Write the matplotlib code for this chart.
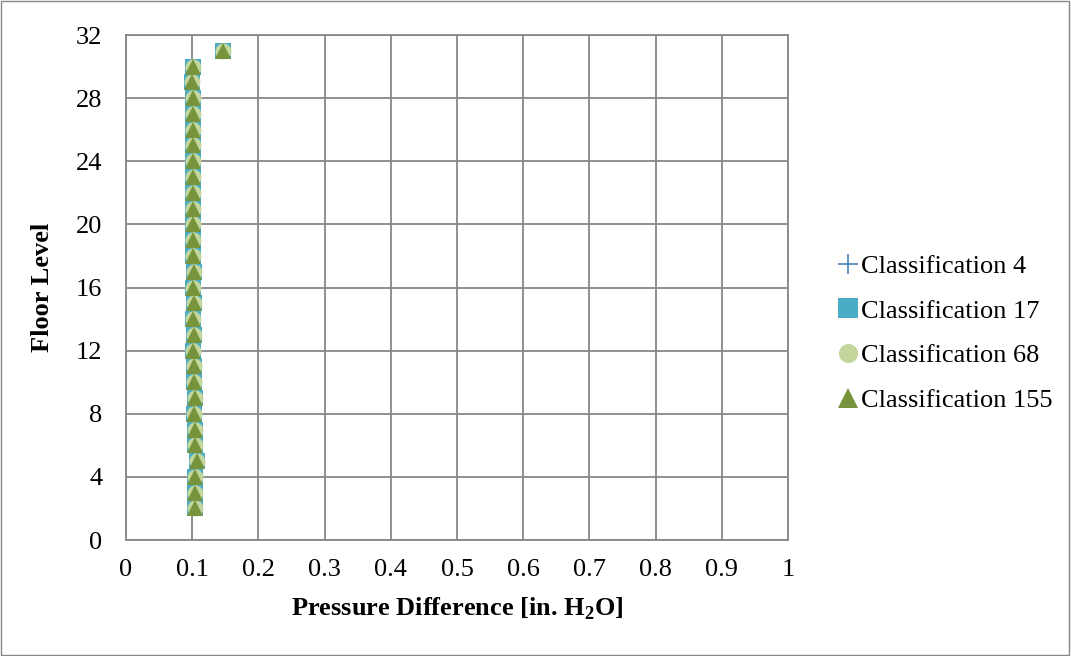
import matplotlib
matplotlib.use("Agg")
import matplotlib.pyplot as plt
from matplotlib.patches import Rectangle

# Floor levels and pressure differences (in. H2O) for each classification
floors = list(range(2, 32))
class_4 = [0.105, 0.105, 0.104, 0.107, 0.105, 0.104, 0.103, 0.104, 0.103, 0.103,
           0.102, 0.103, 0.102, 0.103, 0.102, 0.103, 0.102, 0.101, 0.102, 0.101,
           0.102, 0.101, 0.102, 0.101, 0.102, 0.101, 0.102, 0.100, 0.102, 0.147]
class_17 = list(class_4)
class_68 = list(class_4)
class_155 = list(class_4)

x_ticks = [0, 0.1, 0.2, 0.3, 0.4, 0.5, 0.6, 0.7, 0.8, 0.9, 1]
x_tick_labels = ["0", "0.1", "0.2", "0.3", "0.4", "0.5", "0.6", "0.7", "0.8", "0.9", "1"]
y_ticks = [0, 4, 8, 12, 16, 20, 24, 28, 32]

plt.rcParams["font.family"] = ["Liberation Serif", "DejaVu Serif"]
plt.rcParams["mathtext.fontset"] = "custom"
plt.rcParams["mathtext.rm"] = "Liberation Serif"
plt.rcParams["mathtext.bf"] = "Liberation Serif:bold"

fig = plt.figure(figsize=(10.71, 6.56), dpi=100)
ax = fig.add_axes([0.1176, 0.1768, 0.6182, 0.7698])

grid_c = "#878787"
ms = 11.5
ax.plot(class_4, floors, linestyle="none", marker="+", color="#4a7ebb",
        markersize=ms, markeredgewidth=1.2, label="Classification 4", zorder=3)
ax.plot(class_17, floors, linestyle="none", marker="s", color="#4bacc6",
        markersize=ms, markeredgewidth=0, label="Classification 17", zorder=4)
ax.plot(class_68, floors, linestyle="none", marker="o", color="#c3d69b",
        markersize=ms, markeredgewidth=0, label="Classification 68", zorder=5)
ax.plot(class_155, floors, linestyle="none", marker="^", color="#77933c",
        markersize=ms, markeredgewidth=0, label="Classification 155", zorder=6)

ax.set_xlim(0, 1)
ax.set_ylim(0, 32)
ax.set_xticks(x_ticks)
ax.set_xticklabels(x_tick_labels)
ax.set_yticks(y_ticks)
ax.grid(True, color=grid_c, linewidth=1.3, zorder=0)
ax.set_axisbelow(True)
for s in ax.spines.values():
    s.set_color(grid_c)
    s.set_linewidth(1.3)
ax.tick_params(axis="both", length=0, labelsize=19, labelcolor="black")
ax.tick_params(axis="y", pad=17)
ax.tick_params(axis="x", pad=14)

ax.set_xlabel("Pressure Difference [in. H$_\\mathbf{2}$O]", fontsize=19,
              fontweight="bold", labelpad=10)
ax.set_ylabel("Floor Level", fontsize=19, fontweight="bold", labelpad=16)

leg = fig.legend(loc="center left", bbox_to_anchor=(0.773, 0.492), frameon=False,
                 fontsize=19, handlelength=0.75, handletextpad=0.1,
                 labelspacing=0.8, borderaxespad=0, markerscale=1.2)

# Outer chart border
fig.patches.append(Rectangle((0.001, 0.002), 0.997, 0.996, transform=fig.transFigure,
                             fill=False, edgecolor="#878787", linewidth=1.0))

fig.savefig("out.png", dpi=100)
